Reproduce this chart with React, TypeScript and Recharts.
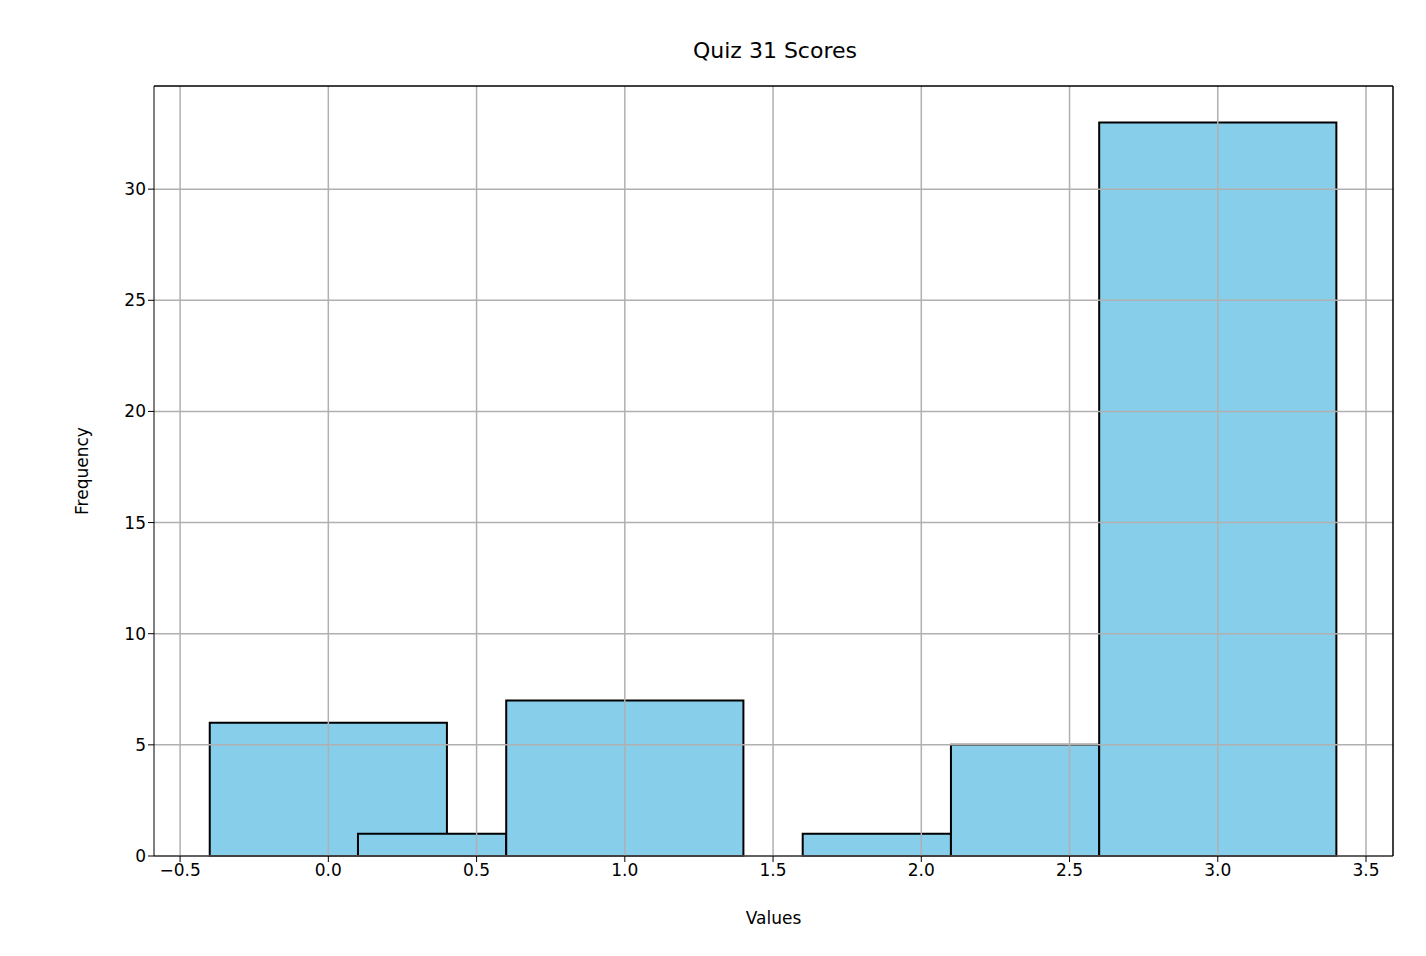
import { ComposedChart, Line, ReferenceArea, ReferenceLine, XAxis, YAxis } from "recharts";

// histogram bins, in draw order (later bins sit over earlier ones)
const binStart = [-0.4, 0.1, 0.6, 1.6, 2.1, 2.6];
const binEnd = [0.4, 0.6, 1.4, 2.1, 2.6, 3.4];
const counts = [6, 1, 7, 1, 5, 33];

const xTicks = [-0.5, 0, 0.5, 1, 1.5, 2, 2.5, 3, 3.5];
const yTicks = [0, 5, 10, 15, 20, 25, 30];

const X_DOMAIN: [number, number] = [-0.588, 3.591];
const Y_DOMAIN: [number, number] = [0, 34.64];

const data = binStart.map((s, i) => ({ x: (s + binEnd[i]) / 2, y: counts[i] }));
const font = "DejaVu Sans, sans-serif";
const fmt = (v: number) => v.toFixed(1).replace("-", "\u2212");

export default function App() {
  return (
    <div style={{ position: "absolute", left: 0, top: 0, width: 1426, height: 956, fontFamily: font, background: "#fff" }}>
      <div style={{ position: "absolute", top: 38, width: "100%", left: 122, textAlign: "center", fontSize: 22, marginLeft: -122 + 0 }}>
        <span style={{ position: "relative", left: 62 }}>Quiz 31 Scores</span>
      </div>
      <ComposedChart width={1426} height={956} data={data} margin={{ top: 86, right: 33, bottom: 0, left: 84 }}>
        <XAxis
          type="number"
          dataKey="x"
          domain={X_DOMAIN}
          ticks={xTicks}
          tickFormatter={fmt}
          allowDataOverflow
          stroke="#000"
          tick={{ fill: "#000", fontSize: 17, fontFamily: font }}
          tickSize={6}
          height={100}
          label={{ value: "Values", position: "insideTop", offset: 56, fill: "#000", fontSize: 17, fontFamily: font }}
        />
        <YAxis
          type="number"
          domain={Y_DOMAIN}
          ticks={yTicks}
          allowDataOverflow
          stroke="#000"
          tick={{ fill: "#000", fontSize: 17, fontFamily: font }}
          tickSize={6}
          width={70}
          label={{ value: "Frequency", angle: -90, position: "insideLeft", offset: -2, fill: "#000", fontSize: 17, fontFamily: font, style: { textAnchor: "middle" } }}
        />
        <Line dataKey="y" stroke="none" dot={false} isAnimationActive={false} />
        {binStart.map((s, i) => (
          <ReferenceArea
            key={i}
            x1={s}
            x2={binEnd[i]}
            y1={0}
            y2={counts[i]}
            fill="#87ceeb"
            fillOpacity={1}
            stroke="#000"
            strokeWidth={2}
          />
        ))}
        {xTicks.map((t) => (
          <ReferenceLine key={"gx" + t} x={t} stroke="#b0b0b0" strokeWidth={1.5} />
        ))}
        {yTicks.map((t) => (
          <ReferenceLine key={"gy" + t} y={t} stroke="#b0b0b0" strokeWidth={1.5} />
        ))}
        <ReferenceLine x={X_DOMAIN[1]} stroke="#000" strokeWidth={1.5} />
        <ReferenceLine y={Y_DOMAIN[1]} stroke="#000" strokeWidth={1.5} />
      </ComposedChart>
    </div>
  );
}
